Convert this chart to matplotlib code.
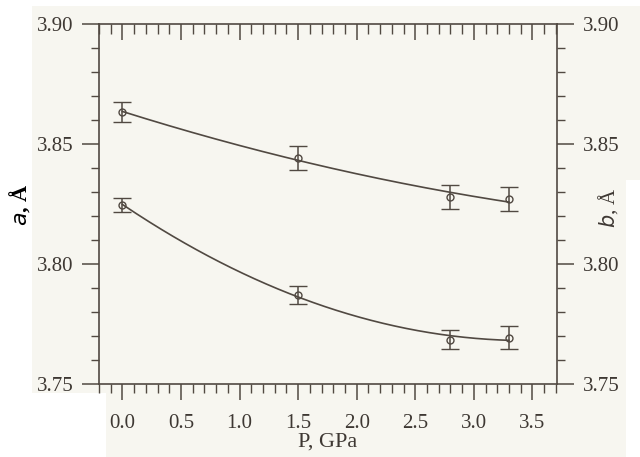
import numpy as np
import matplotlib
matplotlib.use("Agg")
import matplotlib.pyplot as plt
from matplotlib.patches import Rectangle
from matplotlib.ticker import MultipleLocator, FormatStrFormatter

# Data
pressure = [0.0, 1.5, 2.8, 3.3]
a_values = [3.8633, 3.8442, 3.8279, 3.8270]
a_errors = [0.0040, 0.0050, 0.0050, 0.0050]
b_values = [3.8246, 3.7871, 3.7685, 3.7692]
b_errors = [0.0030, 0.0036, 0.0040, 0.0048]

x_ticks = [0.0, 0.5, 1.0, 1.5, 2.0, 2.5, 3.0, 3.5]
y_ticks = [3.75, 3.80, 3.85, 3.90]

ink = "#514942"
txt = "#3e3833"
bg = "#f7f6f0"

plt.rcParams["font.family"] = ["Liberation Serif", "DejaVu Serif"]

fig = plt.figure(figsize=(6.4, 4.57), dpi=100, facecolor=bg)


def white(x0, y0, x1, y1):
    fig.patches.append(Rectangle((x0 / 640, 1 - y1 / 457), (x1 - x0) / 640, (y1 - y0) / 457,
                                 transform=fig.transFigure, facecolor="white",
                                 edgecolor="none", zorder=-1))


# scan margins (white)
white(0, 0, 32, 457)
white(0, 0, 640, 6)
white(0, 393, 106, 457)
white(626, 180, 640, 457)

ax = fig.add_axes([99 / 640, 1 - 384 / 457, (557 - 99) / 640, (384 - 24) / 457])
ax.set_facecolor(bg)

# fitted curves (quadratic fits through the measured points)
xx = np.linspace(0.0, 3.3, 200)
for vals in (a_values, b_values):
    c = np.polyfit(pressure, vals, 2)
    ax.plot(xx, np.polyval(c, xx), color=ink, lw=1.2)

for vals, errs in ((a_values, a_errors), (b_values, b_errors)):
    ax.errorbar(pressure, vals, yerr=errs, fmt="o", ms=5, mfc="none", mec=ink, mew=1.0,
                ecolor=ink, elinewidth=1.1, capsize=6.5, capthick=1.1)

ax.set_xlim(-0.2, 3.71)
ax.set_ylim(3.75, 3.90)
ax.set_xticks(x_ticks)
ax.xaxis.set_minor_locator(MultipleLocator(0.1))
ax.set_yticks(y_ticks)
ax.yaxis.set_minor_locator(MultipleLocator(0.01))
ax.yaxis.set_major_formatter(FormatStrFormatter("%.2f"))
ax.xaxis.set_major_formatter(FormatStrFormatter("%.1f"))

for s in ax.spines.values():
    s.set_color(ink)
    s.set_linewidth(1.2)

ax.tick_params(axis="y", which="major", direction="out", length=12.5, width=1.1, color=ink,
               labelsize=15, labelcolor=txt, pad=6, left=True, right=False)
ax.tick_params(axis="y", which="minor", direction="out", length=6, width=1.0, color=ink,
               left=True, right=False)
ax.tick_params(axis="x", which="major", direction="out", length=11.5, width=1.1, color=ink,
               labelsize=15, labelcolor=txt, pad=10, bottom=True, top=False)
ax.tick_params(axis="x", which="minor", direction="out", length=6.5, width=1.0, color=ink,
               bottom=True, top=False)

# top axis: inward ticks
axt = ax.secondary_xaxis("top")
axt.set_xticks(x_ticks)
axt.xaxis.set_minor_locator(MultipleLocator(0.1))
axt.tick_params(axis="x", which="major", direction="in", length=11.5, width=1.1, color=ink,
                labeltop=False)
axt.tick_params(axis="x", which="minor", direction="in", length=7, width=1.0, color=ink)
axt.spines["top"].set_visible(False)

# right axis (b)
axr = ax.twinx()
axr.set_ylim(3.75, 3.90)
axr.set_yticks(y_ticks)
axr.yaxis.set_minor_locator(MultipleLocator(0.01))
axr.yaxis.set_major_formatter(FormatStrFormatter("%.2f"))
for s in axr.spines.values():
    s.set_visible(False)
axr.tick_params(axis="y", which="major", direction="out", length=12.5, width=1.1, color=ink,
                labelsize=15, labelcolor=txt, pad=6)
axr.tick_params(axis="y", which="minor", direction="out", length=6, width=1.0, color=ink)

ax.set_xlabel("P, GPa", fontsize=16, color=txt, labelpad=0)
fig.text(20 / 640, 1 - 205 / 457, r"$\mathit{a}$, Å", rotation=90, ha="center", va="center",
         fontsize=16, color="black", fontweight="bold")
fig.text(608 / 640, 1 - 208 / 457, r"$\mathit{b}$, Å", rotation=90, ha="center", va="center",
         fontsize=15, color=txt)

fig.savefig("out.png", dpi=100, facecolor=bg)
